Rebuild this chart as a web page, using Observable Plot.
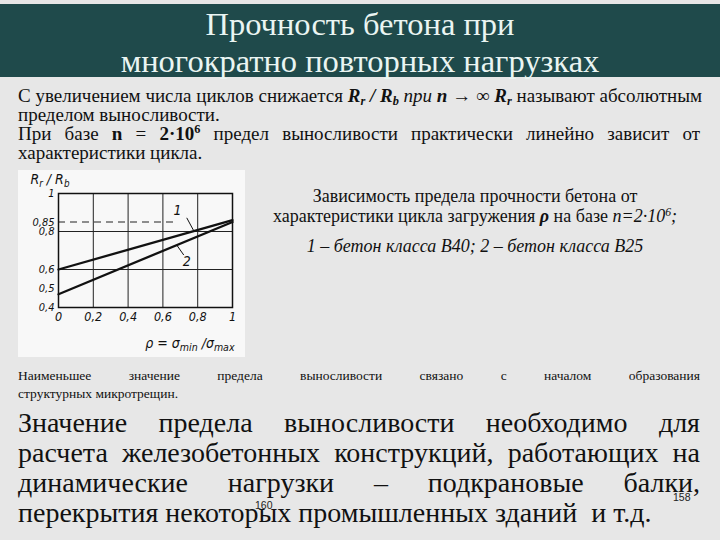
<!DOCTYPE html>
<html lang="ru">
<head>
<meta charset="utf-8">
<script src="https://cdn.jsdelivr.net/npm/d3@7"></script>
<script src="https://cdn.jsdelivr.net/npm/@observablehq/plot@0.6"></script>
<style>
  html, body { margin: 0; padding: 0; }
  body { width: 720px; height: 540px; background: #e7e7e7; overflow: hidden; color: #111; font-family: 'Liberation Serif', serif; }
  #slide { position: relative; width: 720px; height: 540px; }
  .abs { position: absolute; white-space: nowrap; font-family: 'Liberation Serif', serif; }
  #band { position: absolute; left: 0; top: 4px; width: 720px; height: 73px; background: #1f4a4b; }
  .title { left: 0; width: 720px; text-align: center; font-size: 32.5px; line-height: 37px; color: #eaf5f2; }
  .jl { left: 18px; width: 682px; text-align: justify; text-align-last: justify; }
  .ll { left: 18px; text-align: left; }
  .p1 { font-size: 19px; line-height: 19px; }
  .cap { left: 250px; width: 450px; text-align: center; font-size: 18px; line-height: 20px; }
  .p2 { font-size: 13.5px; line-height: 18px; }
  .big { font-size: 28px; line-height: 30px; }
  sub, sup { font-size: 0.65em; line-height: 0; }
  sub { vertical-align: -0.25em; }
  sup { vertical-align: 0.55em; }
  #chart { position: absolute; left: 18px; top: 170px; width: 227px; height: 187px; background: #f8f8f8; }
  #chart svg { display: block; background: transparent; }
  .pg { position: absolute; font-size: 10.5px; line-height: 11px; color: #222; font-family: 'Liberation Sans', sans-serif; }
</style>
</head>
<body>
<div id="slide">
  <div id="band"></div>
  <div class="abs title" style="top:5.5px">Прочность бетона при</div>
  <div class="abs title" style="top:43px">многократно повторных нагрузках</div>

  <div class="abs jl p1" style="top:86.1px">С увеличением числа циклов снижается <b><i>R<sub>r</sub>&nbsp;/&nbsp;R<sub>b</sub></i></b> <i>при <b>n</b></i> <b>→</b>&nbsp;∞ <b><i>R<sub>r</sub></i></b> называют абсолютным</div>
  <div class="abs ll p1" style="top:105.1px">пределом выносливости.</div>
  <div class="abs jl p1" style="top:124.1px">При базе <b>n</b> = <b>2·10<sup>6</sup></b> предел выносливости практически линейно зависит от</div>
  <div class="abs ll p1" style="top:143.1px">характеристики цикла.</div>

  <div id="chart"></div>

  <div class="abs cap" style="top:186px">Зависимость предела прочности бетона от</div>
  <div class="abs cap" style="top:206px">характеристики цикла загружения <b><i>ρ</i></b> на базе <i>n=2·10<sup>6</sup>;</i></div>
  <div class="abs cap" style="top:236px"><i>1 – бетон класса В40; 2 – бетон класса В25</i></div>

  <div class="abs jl p2" style="top:367.4px">Наименьшее значение предела выносливости связано с началом образования</div>
  <div class="abs ll p2" style="top:385.4px">структурных микротрещин.</div>

  <div class="abs jl big" style="top:407.5px">Значение предела выносливости необходимо для</div>
  <div class="abs jl big" style="top:437.5px">расчета железобетонных конструкций, работающих на</div>
  <div class="abs jl big" style="top:467.5px">динамические нагрузки – подкрановые балки,</div>
  <div class="abs ll big" style="top:497.5px">перекрытия некоторых промышленных зданий&nbsp; и т.д.</div>

  <div class="pg" style="left:255px; top:500px">160</div>
  <div class="pg" style="left:673px; top:492px">158</div>
</div>

<script>
// ---- data ----
const rho = [0, 1];                       // cycle characteristic ρ
const curve1 = [0.60, 0.86];              // 1 – concrete class B40
const curve2 = [0.47, 0.85];              // 2 – concrete class B25
const xTicks = [0, 0.2, 0.4, 0.6, 0.8, 1];
const yTicks = [0.4, 0.5, 0.6, 0.8, 0.85, 1];
const xGrid = [0.2, 0.4, 0.6, 0.8];
const yGrid = [0.6, 0.8];
const dashLevel = [0.85];
const dashEnd = 0.684;
const curveLabels = ["1", "2"];
const curveLabelX = [0.684, 0.737];
const curveLabelY = [0.91, 0.64];
const leaderX1 = [0.737, 0.68];
const leaderY1 = [0.872, 0.728];
const leaderX2 = [0.776, 0.72];
const leaderY2 = [0.806, 0.676];
const yLabel = "Rr/Rb";
const xLabel = "rho=smin/smax";

const lines = [
  ...rho.map((r, i) => ({ rho: r, v: curve1[i], s: "1" })),
  ...rho.map((r, i) => ({ rho: r, v: curve2[i], s: "2" }))
];
const leaders = curveLabels.map((c, i) => ({ x1: leaderX1[i], y1: leaderY1[i], x2: leaderX2[i], y2: leaderY2[i] }));
const labels = curveLabels.map((c, i) => ({ t: c, x: curveLabelX[i], y: curveLabelY[i] }));
const fmt = d => String(d).replace(".", ",");
const tickFont = "'DejaVu Sans Condensed', 'DejaVu Sans', sans-serif";

const plot = Plot.plot({
  width: 227,
  height: 187,
  marginLeft: 40,
  marginTop: 23,
  marginRight: 13,
  marginBottom: 50,
  style: { background: "transparent", fontFamily: tickFont, color: "#111" },
  x: { domain: [0, 1] },
  y: { domain: [0.4, 1] },
  marks: [
    Plot.ruleX(xGrid, { stroke: "#222", strokeWidth: 1 }),
    Plot.ruleY(yGrid, { stroke: "#222", strokeWidth: 1 }),
    Plot.ruleY(dashLevel, { x1: 0, x2: dashEnd, stroke: "#222", strokeWidth: 1, strokeDasharray: "7,5" }),
    Plot.frame({ stroke: "#111", strokeWidth: 1.5 }),
    Plot.line(lines, { x: "rho", y: "v", z: "s", stroke: "#111", strokeWidth: 2.3 }),
    Plot.link(leaders, { x1: "x1", y1: "y1", x2: "x2", y2: "y2", stroke: "#111", strokeWidth: 1 }),
    Plot.text(labels, { x: "x", y: "y", text: "t", fontSize: 14, fontStyle: "italic", fill: "#111" }),
    Plot.axisX({ ticks: xTicks, tickFormat: fmt, tickSize: 0, tickPadding: 5, fontSize: 12.5, fontStyle: "italic", label: null }),
    Plot.axisY({ ticks: yTicks, tickFormat: fmt, tickSize: 0, tickPadding: 4, fontSize: 11, fontStyle: "italic", label: null }),
    Plot.text([yLabel], { frameAnchor: "top-left", dx: -28, dy: -10, textAnchor: "start", lineAnchor: "bottom", fontSize: 14, fontStyle: "italic", fill: "#111" }),
    Plot.text([xLabel], { frameAnchor: "bottom-right", dx: 2, dy: 40, textAnchor: "end", lineAnchor: "bottom", fontSize: 14, fontStyle: "italic", fill: "#111" })
  ]
});

plot.querySelectorAll("text").forEach(t => {
  if (t.textContent === yLabel) {
    t.innerHTML = 'R<tspan font-size="0.7em" dy="3">r</tspan><tspan dy="-3"> / R</tspan><tspan font-size="0.7em" dy="3">b</tspan>';
  } else if (t.textContent === xLabel) {
    t.innerHTML = 'ρ = σ<tspan font-size="0.75em" dy="3">min</tspan><tspan dy="-3"> /σ</tspan><tspan font-size="0.75em" dy="3">max</tspan>';
  }
});

document.getElementById("chart").appendChild(plot);
</script>
</body>
</html>
